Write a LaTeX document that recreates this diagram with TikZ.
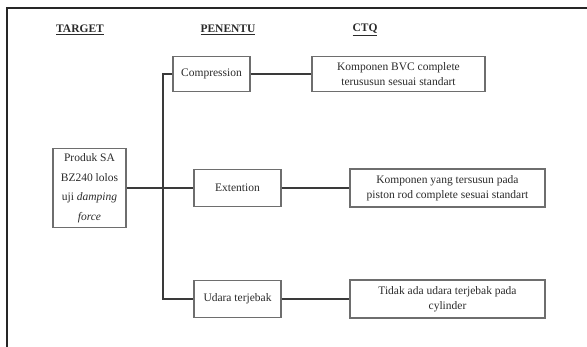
\documentclass[tikz,border=0pt]{standalone}
\usepackage{fontspec}
\setmainfont{Liberation Serif}
\usepackage{tikz}
\usetikzlibrary{positioning,calc}
\definecolor{ctqLine}{HTML}{3A3A3A}
\definecolor{ctqBox}{HTML}{6E6E6E}
\definecolor{ctqText}{HTML}{2A2A2A}
\tikzset{
  ctqnode/.style={
    draw=ctqBox, line width=1.1pt, inner sep=0pt, align=center,
    text=ctqText, font=\fontsize{11.5}{15}\selectfont
  },
  target/.style={ctqnode, minimum width=73pt, minimum height=79pt,
    font=\fontsize{11.5}{19.5}\selectfont},
  penentu/.style={ctqnode, minimum width=87pt, minimum height=37pt},
  ctq/.style={ctqnode, minimum width=195pt, minimum height=38pt},
  heading/.style={font=\fontsize{11.5}{14}\selectfont\bfseries, text=ctqText},
  link/.style={line width=1.6pt, ctqLine},
  frameline/.style={line width=1.6pt, black!85}
}
\begin{document}
\begin{tikzpicture}[x=1pt, y=-1pt]
  \useasboundingbox (0,0) rectangle (587,347);
  % outer frame (only top and left edges are visible)
  \draw[frameline] (587,8) -- (7,8) -- (7,347);
  % column headings
  \node[heading] (hTarget) at (80,30) {\underline{TARGET}};
  \node[heading] (hPenentu) at (228,30) {\underline{PENENTU}};
  \node[heading] (hCtq) at (365,30) {\underline{CTQ}};
  % target
  \node[target] (prod) at (89.5,188) {Produk SA\\BZ240 lolos\\uji \textit{damping}\\\textit{force}};
  % penentu
  \node[penentu, minimum width=77pt, minimum height=35pt] (comp) at (211.5,74) {Compression};
  \node[penentu] (ext) at (237.5,188) {Extention};
  \node[penentu] (udara) at (237.5,299) {Udara terjebak};
  % ctq
  \node[ctq, minimum width=173pt, minimum height=35pt] (ctqA) at (398.5,74) {Komponen BVC complete\\terususun sesuai standart};
  \node[ctq] (ctqB) at (447.5,188) {Komponen yang tersusun pada\\piston rod complete sesuai standart};
  \node[ctq] (ctqC) at (447.5,299) {Tidak ada udara terjebak pada\\cylinder};
  % tree trunk
  \coordinate (trunk) at (163,188);
  \draw[link] (comp.west) -| (trunk) |- (udara.west);
  \draw[link] (prod.east) -- (ext.west);
  % penentu to ctq
  \draw[link] (comp.east) -- (ctqA.west);
  \draw[link] (ext.east) -- (ctqB.west);
  \draw[link] (udara.east) -- (ctqC.west);
\end{tikzpicture}
\end{document}
